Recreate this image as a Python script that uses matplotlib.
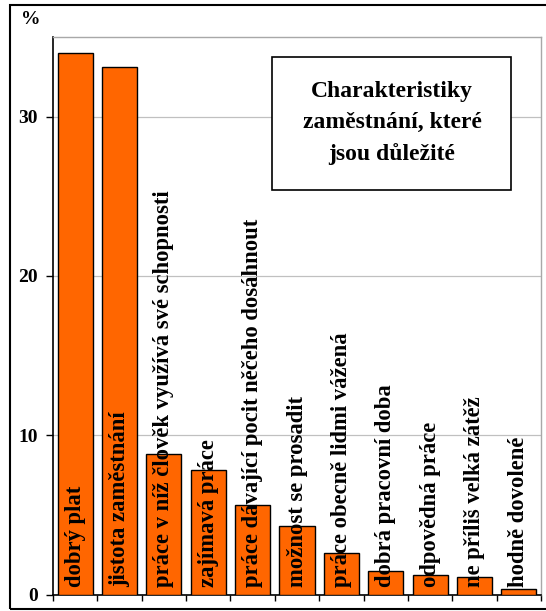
import matplotlib
matplotlib.use("Agg")
import matplotlib.pyplot as plt
from matplotlib.patches import Rectangle
import numpy as np

categories = [
    "dobrý plat",
    "jistota zaměstnání",
    "práce v níž člověk využívá své schopnosti",
    "zajímavá práce",
    "práce dávající pocit něčeho dosáhnout",
    "možnost se prosadit",
    "práce obecně lidmi vážená",
    "dobrá pracovní doba",
    "odpovědná práce",
    "ne příliš velká zátěž",
    "hodně dovolené",
]
values = [34.0, 33.1, 8.85, 7.8, 5.6, 4.3, 2.6, 1.48, 1.25, 1.13, 0.37]
yticks = [0, 10, 20, 30]
title_text = "Charakteristiky\nzaměstnání, které\njsou důležité"
unit_label = "%"

W, H = 546, 611
fig = plt.figure(figsize=(W / 100, H / 100), dpi=100)
serif = ["Liberation Serif", "DejaVu Serif"]

# outer frame
fig.patches.append(Rectangle((10 / W, 1 - 609 / H), 1.2, (609 - 5) / H,
                             transform=fig.transFigure, fill=False,
                             edgecolor="black", linewidth=1.5, zorder=0))

ax = fig.add_axes([53 / W, 1 - 594.5 / H, (541 - 53) / W, (594.5 - 37) / H])
x = np.arange(len(categories))
ax.bar(x, values, width=0.79, color="#FF6600", edgecolor="black",
       linewidth=1.0, zorder=3)
ax.set_xlim(-0.5, len(categories) - 0.5)
ax.set_ylim(0, 35)
ax.set_yticks(yticks)
ax.set_yticklabels([str(t) for t in yticks], fontfamily=serif,
                   fontweight="bold", fontsize=14)
ax.tick_params(axis="y", direction="out", length=5, width=1, pad=6)
ax.set_xticks([])
ax.set_xticks(np.arange(len(categories) + 1) - 0.5, minor=True)
ax.tick_params(axis="x", which="minor", direction="out", length=4, width=1)
ax.grid(axis="y", color="#c0c0c0", linewidth=0.9, zorder=0)
ax.set_axisbelow(True)
for s in ["top", "right"]:
    ax.spines[s].set_color("#a8a8a8")
    ax.spines[s].set_linewidth(1.0)
for s in ["left", "bottom"]:
    ax.spines[s].set_color("black")
    ax.spines[s].set_linewidth(1.2)

for i, lab in enumerate(categories):
    ax.text(i, 0.45, lab, rotation=90, ha="center", va="bottom",
            fontfamily=serif, fontweight="bold", fontsize=16.3,
            color="black", zorder=4)

fig.text(31 / W, 1 - 20 / H, unit_label, ha="center", va="center",
         fontfamily=serif, fontweight="bold", fontsize=14)

# title box
fig.patches.append(Rectangle((272 / W, 1 - 190 / H), (511 - 272) / W,
                             (190 - 57) / H, transform=fig.transFigure,
                             facecolor="white", edgecolor="black",
                             linewidth=1.2, zorder=5))
fig.text(392 / W, 1 - 123 / H, title_text, ha="center", va="center",
         fontfamily=serif, fontweight="bold", fontsize=17,
         linespacing=1.6, zorder=6)

fig.savefig("out.png", dpi=100)
